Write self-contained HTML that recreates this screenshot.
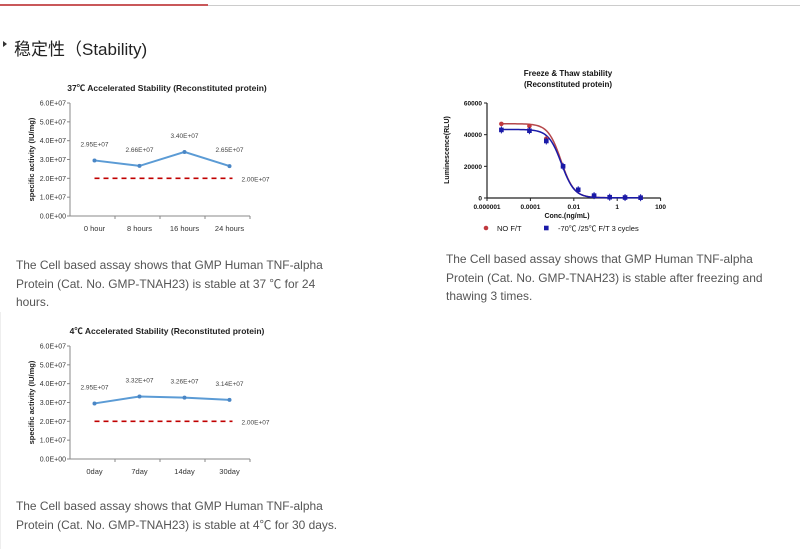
<!DOCTYPE html>
<html><head><meta charset="utf-8">
<style>
html,body{margin:0;padding:0;background:#fff;width:800px;height:549px;overflow:hidden;position:relative;font-family:"Liberation Sans","Noto Sans CJK SC",sans-serif}
.p{position:absolute;font-size:11.95px;line-height:18.5px;color:#555;}
svg text{font-family:"Liberation Sans","Noto Sans CJK SC",sans-serif}
</style></head><body>
<div style="position:absolute;left:0;top:4px;width:208px;height:2px;background:#c9585a"></div>
<div style="position:absolute;left:208px;top:5px;width:592px;height:1px;background:#ccc"></div>
<div style="position:absolute;left:3px;top:41px;width:0;height:0;border-top:3px solid transparent;border-bottom:3px solid transparent;border-left:4px solid #333"></div>
<div style="position:absolute;left:14px;top:35px;font-size:17px;color:#222;font-family:'Liberation Sans','Noto Sans CJK SC',sans-serif">稳定性（Stability)</div>

<div class="p" style="left:16px;top:256px;width:320px">The Cell based assay shows that GMP Human TNF-alpha Protein (Cat. No. GMP-TNAH23) is stable at 37 ℃ for 24 hours.</div>
<div class="p" style="left:446px;top:250px;width:340px">The Cell based assay shows that GMP Human TNF-alpha Protein (Cat. No. GMP-TNAH23) is stable after freezing and thawing 3 times.</div>
<div class="p" style="left:16px;top:497px;width:340px">The Cell based assay shows that GMP Human TNF-alpha Protein (Cat. No. GMP-TNAH23) is stable at 4℃ for 30 days.</div>
<div style="position:absolute;left:0;top:312px;width:1px;height:237px;background:#eee"></div>

<svg id="s" width="800" height="549" style="position:absolute;left:0;top:0"></svg>
<script>
// Chart 1: 37C
const c1Cats=["0 hour","8 hours","16 hours","24 hours"];
const c1Vals=[2.95e7,2.66e7,3.40e7,2.65e7];
const c1Labels=["2.95E+07","2.66E+07","3.40E+07","2.65E+07"];
// Chart 2: 4C
const c2Cats=["0day","7day","14day","30day"];
const c2Vals=[2.95e7,3.32e7,3.26e7,3.14e7];
const c2Labels=["2.95E+07","3.32E+07","3.26E+07","3.14E+07"];
const specLimit=2.0e7;
const yTicks=[0,1e7,2e7,3e7,4e7,5e7,6e7];
const yTickLabels=["0.0E+00","1.0E+07","2.0E+07","3.0E+07","4.0E+07","5.0E+07","6.0E+07"];
// Chart 3: freeze-thaw
const ftConc=[4.6e-6,9e-5,5.4e-4,3.2e-3,1.6e-2,8.6e-2,0.45,2.3,12];
const ftNoFT=[46800,45500,37500,20000,5000,1500,500,300,200];
const ftCycles=[43000,42500,36000,20000,5200,1500,500,300,200];
const ftFitNoFT=[46900,150,0.0026,1.45];
const ftFitCycles=[43300,150,0.0027,1.45];
const ftYTicks=[0,20000,40000,60000];
const ftXTicks=[1e-6,1e-4,1e-2,1,100];
const ftXTickLabels=["0.000001","0.0001","0.01","1","100"];

const NS="http://www.w3.org/2000/svg";
const svg=document.getElementById('s');
function mk(tag,attrs,parent,txt){const e=document.createElementNS(NS,tag);for(const k in attrs)e.setAttribute(k,attrs[k]);if(txt!==undefined)e.textContent=txt;(parent||svg).appendChild(e);return e;}

function stability(top,title,cats,vals,labels,nm){
  const g=mk('g',{});
  
  
  const x0=70,x1=250,yT=top,yB=top+113;
  const y=v=>yB-(v/6e7)*(yB-yT);
  const step=(x1-x0)/cats.length;
  const x=i=>x0+step*(i+0.5)+2;
  const t=mk('text',{x:167,y:top-12,'text-anchor':'middle','font-size':'8.5','font-weight':'bold',fill:'#222'},g,title);
  
  mk('line',{x1:x0,y1:yT,x2:x0,y2:yB,stroke:'#888'},g);
  mk('line',{x1:x0,y1:yB,x2:x1,y2:yB,stroke:'#888'},g);
  yTicks.forEach((v,i)=>{
    mk('line',{x1:x0-3,y1:y(v),x2:x0,y2:y(v),stroke:'#888'},g);
    const l=mk('text',{x:x0-4,y:y(v)+2.5,'text-anchor':'end','font-size':'7',fill:'#333'},g,yTickLabels[i]);
    
  });
  cats.forEach((c,i)=>{
    mk('line',{x1:x0+step*(i+1),y1:yB,x2:x0+step*(i+1),y2:yB+3,stroke:'#888'},g);
    const l=mk('text',{x:x(i),y:yB+15,'text-anchor':'middle','font-size':'7.5',fill:'#333'},g,c);
    
  });
  const yt=mk('text',{transform:`translate(${x0-36},${(yT+yB)/2}) rotate(-90)`,'text-anchor':'middle','font-size':'7.5','font-weight':'bold',fill:'#222'},g,'specific activity (IU/mg)');
  
  const lim=mk('line',{x1:x(0),y1:y(specLimit),x2:x(3)+3,y2:y(specLimit),stroke:'#c00000','stroke-width':'1.6','stroke-dasharray':'5,4'},g);
  
  const ll=mk('text',{x:x(3)+12,y:y(specLimit)+3,'font-size':'6.5',fill:'#444'},g,'2.00E+07');
  
  const pl=mk('polyline',{points:vals.map((v,i)=>x(i)+','+y(v)).join(' '),fill:'none',stroke:'#5b9bd5','stroke-width':'2'},g);
  
  vals.forEach((v,i)=>{
    const c=mk('circle',{cx:x(i),cy:y(v),r:2,fill:'#4a86c5'},g);
    
    const l=mk('text',{x:x(i),y:y(v)-14,'text-anchor':'middle','font-size':'6.5',fill:'#444'},g,labels[i]);
    
  });
}
stability(103,'37℃ Accelerated Stability (Reconstituted protein)',c1Cats,c1Vals,c1Labels,'chart-37c');
stability(346,'4℃ Accelerated Stability (Reconstituted protein)',c2Cats,c2Vals,c2Labels,'chart-4c');

// freeze-thaw chart
(function(){
  const g=mk('g',{});
  
  
  const x0=487,dec=21.7,yT=103,yB=198;
  const x=c=>x0+(Math.log10(c)+6)*dec;
  const y=v=>yB-v/60000*(yB-yT);
  const t1=mk('text',{x:568,y:76,'text-anchor':'middle','font-size':'8','font-weight':'bold',fill:'#111'},g,'Freeze & Thaw stability');
  
  const t2=mk('text',{x:568,y:87,'text-anchor':'middle','font-size':'8','font-weight':'bold',fill:'#111'},g,'(Reconstituted protein)');
  
  mk('line',{x1:x0,y1:yT,x2:x0,y2:yB,stroke:'#222','stroke-width':'1.2'},g);
  mk('line',{x1:x0,y1:yB,x2:x(100),y2:yB,stroke:'#222','stroke-width':'1.2'},g);
  ftYTicks.forEach(v=>{
    mk('line',{x1:x0-3,y1:y(v),x2:x0,y2:y(v),stroke:'#222'},g);
    const l=mk('text',{x:x0-5,y:y(v)+2.5,'text-anchor':'end','font-size':'6.5','font-weight':'bold',fill:'#111'},g,String(v));
    
  });
  ftXTicks.forEach((c,i)=>{
    mk('line',{x1:x(c),y1:yB,x2:x(c),y2:yB+3,stroke:'#222'},g);
    const l=mk('text',{x:x(c),y:yB+11,'text-anchor':'middle','font-size':'6.5','font-weight':'bold',fill:'#111'},g,ftXTickLabels[i]);
    
  });
  const xt=mk('text',{x:567,y:218,'text-anchor':'middle','font-size':'7','font-weight':'bold',fill:'#111'},g,'Conc.(ng/mL)');
  
  const yt=mk('text',{transform:`translate(449,150) rotate(-90)`,'text-anchor':'middle','font-size':'7','font-weight':'bold',fill:'#111'},g,'Luminescence(RLU)');
  
  function curve(p,col,nm){
    const pts=[];const a=Math.log10(ftConc[0]),b=Math.log10(ftConc[ftConc.length-1]);
    for(let k=0;k<=80;k++){const lc=a+(b-a)*k/80;const c=Math.pow(10,lc);
      const v=p[1]+(p[0]-p[1])/(1+Math.pow(c/p[2],p[3]));pts.push(x(c)+','+y(v));}
    const e=mk('polyline',{points:pts.join(' '),fill:'none',stroke:col,'stroke-width':'1.5'},g);
    
  }
  curve(ftFitNoFT,'#b5474b','fit-curve-no-ft');
  curve(ftFitCycles,'#1a1aa8','fit-curve-3-cycles');
  ftConc.forEach((c,i)=>{
    const e=mk('circle',{cx:x(c),cy:y(ftNoFT[i]),r:2.3,fill:'#c0393f'},g);
    
  });
  ftConc.forEach((c,i)=>{
    const yy=y(ftCycles[i]);
    mk('line',{x1:x(c),y1:yy-3.5,x2:x(c),y2:yy+3.5,stroke:'#1a1aa8'},g);
    const e=mk('rect',{x:x(c)-2.3,y:yy-2.3,width:4.6,height:4.6,fill:'#1a1aa8'},g);
    
  });
  const l1=mk('circle',{cx:486,cy:228,r:2.3,fill:'#c0393f'},g);
  
  const l1t=mk('text',{x:497,y:231,'font-size':'7.5',fill:'#111'},g,'NO  F/T');
  
  const l2=mk('rect',{x:544,y:225.7,width:4.6,height:4.6,fill:'#1a1aa8'},g);
  
  const l2t=mk('text',{x:558,y:231,'font-size':'7.5',fill:'#111'},g,'-70℃ /25℃  F/T 3 cycles');
  
})();
</script>
</body></html>
